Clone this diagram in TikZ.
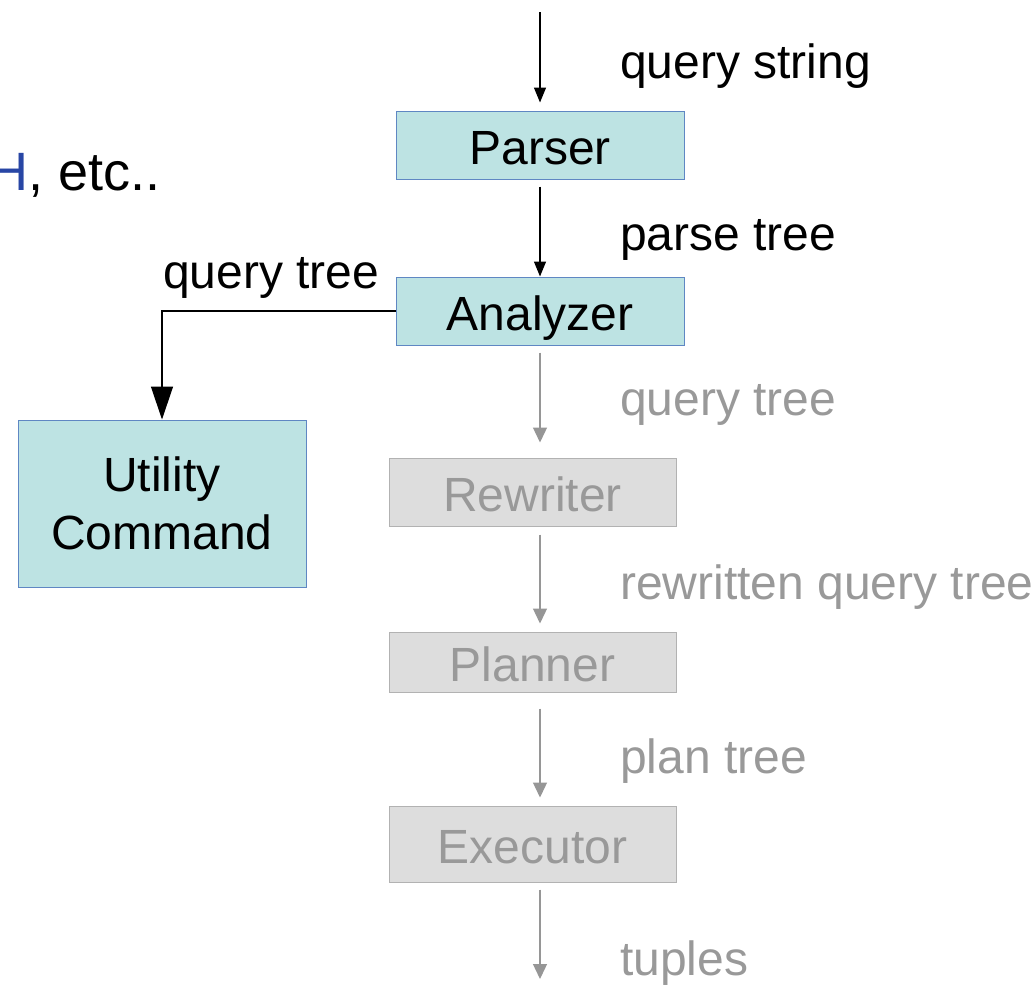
\documentclass[tikz,border=0pt]{standalone}
\usepackage{fontspec}
\setmainfont{Liberation Sans}
\usetikzlibrary{arrows.meta}

\definecolor{boxfill}{RGB}{189,227,227}
\definecolor{boxline}{RGB}{95,135,195}
\definecolor{greyfill}{RGB}{221,221,221}
\definecolor{greyline}{RGB}{178,178,178}
\definecolor{greytext}{RGB}{153,153,153}
\definecolor{greyarrow}{RGB}{150,150,150}
\definecolor{linkblue}{RGB}{40,70,165}

\tikzset{
  bigfont/.style={font=\fontsize{48pt}{58pt}\selectfont},
  stagebox/.style={bigfont, draw=boxline, fill=boxfill, line width=1pt,
    inner sep=0pt, text height=38pt, text depth=0pt},
  fadedbox/.style={stagebox, draw=greyline, fill=greyfill, text=greytext},
  lbl/.style={bigfont, anchor=base west, inner sep=0pt},
  fadedlbl/.style={lbl, text=greytext},
  flow/.style={line width=1.3pt, -{Triangle[length=15pt,width=12pt]}},
  fadedflow/.style={flow, draw=greyarrow, -{Triangle[length=15pt,width=14pt]}},
  branch/.style={line width=1.3pt, -{Triangle[length=33pt,width=22pt]}}
}

\begin{document}
\begin{tikzpicture}[x=1pt, y=-1pt]
  \useasboundingbox (0,0) rectangle (1036,985);
  \clip (0,0) rectangle (1036,985);

  % processing stages
  \node[stagebox, minimum width=288pt, minimum height=68pt] (parser)   at (540,145)   {Parser};
  \node[stagebox, minimum width=288pt, minimum height=68pt] (analyzer) at (540,311)   {Analyzer};
  \node[fadedbox, minimum width=287pt, minimum height=68pt] (rewriter) at (532.5,492) {Rewriter};
  \node[fadedbox, minimum width=287pt, minimum height=60pt] (planner)  at (532.5,662) {Planner};
  \node[fadedbox, minimum width=287pt, minimum height=76pt] (executor) at (532.5,844) {Executor};
  \node[bigfont, draw=boxline, fill=boxfill, line width=1pt, inner sep=0pt,
        minimum width=288pt, minimum height=167pt, align=center] (utility) at (162,503.5)
        {\raisebox{-3pt}{Utility}\\\raisebox{-3pt}{Command}};

  % column of the main flow and its free ends
  \coordinate (col) at (540,0);
  \coordinate (qin) at (540,12);
  \coordinate (qout) at (540,979);

  % labels
  \node[lbl] (lqs) at (620,78) {query string};
  \node[lbl] (lpt) at (620,250) {parse tree};
  \node[lbl] (lqt) at (163,288) {query tree};
  \node[fadedlbl] (lqt2) at (620,415) {query tree};
  \node[fadedlbl] (lrqt) at (620,599) {rewritten query tree};
  \node[fadedlbl] (lplan) at (620,773) {plan tree};
  \node[fadedlbl] (ltup) at (620,975) {tuples};
  \node[anchor=base west, inner sep=0pt, font=\fontsize{54pt}{60pt}\selectfont] (etc) at (-10.5,190)
        {\textcolor{linkblue}{H}, etc..};

  % connectors
  \draw[flow, shorten >=8pt] (qin) -- (parser.north);
  \draw[flow, shorten <=7pt] (parser.south) -- (analyzer.north);
  \draw[branch] (analyzer.west) -| (utility.north);
  \draw[fadedflow, shorten <=7pt, shorten >=15pt] (analyzer.south) -- (col |- rewriter.north);
  \draw[fadedflow, shorten <=8pt, shorten >=8pt] (col |- rewriter.south) -- (col |- planner.north);
  \draw[fadedflow, shorten <=16pt, shorten >=8pt] (col |- planner.south) -- (col |- executor.north);
  \draw[fadedflow, shorten <=7pt] (col |- executor.south) -- (qout);
\end{tikzpicture}
\end{document}
